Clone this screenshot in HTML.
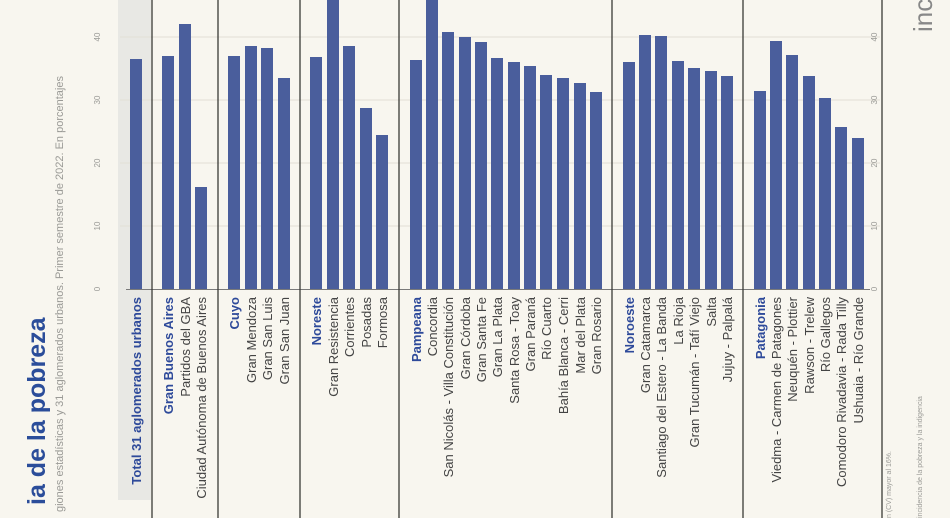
<!DOCTYPE html>
<html><head><meta charset="utf-8"><style>
html,body{margin:0;padding:0;background:#f8f6ef;}
svg{display:block;font-family:"Liberation Sans",sans-serif;}
</style></head><body>
<svg width="950" height="518" viewBox="0 0 950 518" xmlns="http://www.w3.org/2000/svg">
<rect width="950" height="518" fill="#f8f6ef"/>
<rect x="118" y="0" width="33" height="500" fill="#e8e8e4"/>
<g stroke="#e2dfd6" stroke-width="1">
<line x1="120" y1="37" x2="880" y2="37"/>
<line x1="120" y1="100" x2="880" y2="100"/>
<line x1="120" y1="163" x2="880" y2="163"/>
<line x1="120" y1="226" x2="880" y2="226"/>
</g>
<g fill="#9a9a96" font-size="8">
<text transform="translate(100,37) rotate(-90)" text-anchor="middle">40</text>
<text transform="translate(100,100) rotate(-90)" text-anchor="middle">30</text>
<text transform="translate(100,163) rotate(-90)" text-anchor="middle">20</text>
<text transform="translate(100,226) rotate(-90)" text-anchor="middle">10</text>
<text transform="translate(100,289) rotate(-90)" text-anchor="middle">0</text>
<text transform="translate(877,37) rotate(-90)" text-anchor="middle">40</text>
<text transform="translate(877,100) rotate(-90)" text-anchor="middle">30</text>
<text transform="translate(877,163) rotate(-90)" text-anchor="middle">20</text>
<text transform="translate(877,226) rotate(-90)" text-anchor="middle">10</text>
<text transform="translate(877,289) rotate(-90)" text-anchor="middle">0</text>
</g>
<g fill="#4a5e9c">
<rect x="130" y="59" width="12" height="230"/>
<rect x="162" y="56" width="12" height="233"/>
<rect x="179" y="24" width="12" height="265"/>
<rect x="195" y="187" width="12" height="102"/>
<rect x="228" y="56" width="12" height="233"/>
<rect x="245" y="46" width="12" height="243"/>
<rect x="261" y="48" width="12" height="241"/>
<rect x="278" y="78" width="12" height="211"/>
<rect x="310" y="57" width="12" height="232"/>
<rect x="327" y="0" width="12" height="289"/>
<rect x="343" y="46" width="12" height="243"/>
<rect x="360" y="108" width="12" height="181"/>
<rect x="376" y="135" width="12" height="154"/>
<rect x="410" y="60" width="12" height="229"/>
<rect x="426" y="0" width="12" height="289"/>
<rect x="442" y="32" width="12" height="257"/>
<rect x="459" y="37" width="12" height="252"/>
<rect x="475" y="42" width="12" height="247"/>
<rect x="491" y="58" width="12" height="231"/>
<rect x="508" y="62" width="12" height="227"/>
<rect x="524" y="66" width="12" height="223"/>
<rect x="540" y="75" width="12" height="214"/>
<rect x="557" y="78" width="12" height="211"/>
<rect x="574" y="83" width="12" height="206"/>
<rect x="590" y="92" width="12" height="197"/>
<rect x="623" y="62" width="12" height="227"/>
<rect x="639" y="35" width="12" height="254"/>
<rect x="655" y="36" width="12" height="253"/>
<rect x="672" y="61" width="12" height="228"/>
<rect x="688" y="68" width="12" height="221"/>
<rect x="705" y="71" width="12" height="218"/>
<rect x="721" y="76" width="12" height="213"/>
<rect x="754" y="91" width="12" height="198"/>
<rect x="770" y="41" width="12" height="248"/>
<rect x="786" y="55" width="12" height="234"/>
<rect x="803" y="76" width="12" height="213"/>
<rect x="819" y="98" width="12" height="191"/>
<rect x="835" y="127" width="12" height="162"/>
<rect x="852" y="138" width="12" height="151"/>
</g>
<line x1="126" y1="289.5" x2="870" y2="289.5" stroke="#7a7a7a" stroke-width="1"/>
<g stroke="#3a3a36" stroke-width="1.3">
<line x1="152" y1="0" x2="152" y2="518"/>
<line x1="218" y1="0" x2="218" y2="518"/>
<line x1="300" y1="0" x2="300" y2="518"/>
<line x1="399" y1="0" x2="399" y2="518"/>
<line x1="612" y1="0" x2="612" y2="518"/>
<line x1="743" y1="0" x2="743" y2="518"/>
<line x1="882" y1="0" x2="882" y2="518"/>
</g>
<g font-size="13" fill="#444" text-anchor="end">
<text transform="translate(141,297) rotate(-90)" fill="#2e4a9a" font-weight="bold">Total 31 aglomerados urbanos</text>
<text transform="translate(173,297) rotate(-90)" fill="#2e4a9a" font-weight="bold">Gran Buenos Aires</text>
<text transform="translate(190,297) rotate(-90)">Partidos del GBA</text>
<text transform="translate(206,297) rotate(-90)">Ciudad Autónoma de Buenos Aires</text>
<text transform="translate(239,297) rotate(-90)" fill="#2e4a9a" font-weight="bold">Cuyo</text>
<text transform="translate(256,297) rotate(-90)">Gran Mendoza</text>
<text transform="translate(272,297) rotate(-90)">Gran San Luis</text>
<text transform="translate(289,297) rotate(-90)">Gran San Juan</text>
<text transform="translate(321,297) rotate(-90)" fill="#2e4a9a" font-weight="bold">Noreste</text>
<text transform="translate(338,297) rotate(-90)">Gran Resistencia</text>
<text transform="translate(354,297) rotate(-90)">Corrientes</text>
<text transform="translate(371,297) rotate(-90)">Posadas</text>
<text transform="translate(387,297) rotate(-90)">Formosa</text>
<text transform="translate(421,297) rotate(-90)" fill="#2e4a9a" font-weight="bold">Pampeana</text>
<text transform="translate(437,297) rotate(-90)">Concordia</text>
<text transform="translate(453,297) rotate(-90)">San Nicolás - Villa Constitución</text>
<text transform="translate(470,297) rotate(-90)">Gran Córdoba</text>
<text transform="translate(486,297) rotate(-90)">Gran Santa Fe</text>
<text transform="translate(502,297) rotate(-90)">Gran La Plata</text>
<text transform="translate(519,297) rotate(-90)">Santa Rosa - Toay</text>
<text transform="translate(535,297) rotate(-90)">Gran Paraná</text>
<text transform="translate(551,297) rotate(-90)">Río Cuarto</text>
<text transform="translate(568,297) rotate(-90)">Bahía Blanca - Cerri</text>
<text transform="translate(585,297) rotate(-90)">Mar del Plata</text>
<text transform="translate(601,297) rotate(-90)">Gran Rosario</text>
<text transform="translate(634,297) rotate(-90)" fill="#2e4a9a" font-weight="bold">Noroeste</text>
<text transform="translate(650,297) rotate(-90)">Gran Catamarca</text>
<text transform="translate(666,297) rotate(-90)">Santiago del Estero - La Banda</text>
<text transform="translate(683,297) rotate(-90)">La Rioja</text>
<text transform="translate(699,297) rotate(-90)">Gran Tucumán - Tafí Viejo</text>
<text transform="translate(716,297) rotate(-90)">Salta</text>
<text transform="translate(732,297) rotate(-90)">Jujuy - Palpalá</text>
<text transform="translate(765,297) rotate(-90)" fill="#2e4a9a" font-weight="bold">Patagonia</text>
<text transform="translate(781,297) rotate(-90)">Viedma - Carmen de Patagones</text>
<text transform="translate(797,297) rotate(-90)">Neuquén - Plottier</text>
<text transform="translate(814,297) rotate(-90)">Rawson - Trelew</text>
<text transform="translate(830,297) rotate(-90)">Río Gallegos</text>
<text transform="translate(846,297) rotate(-90)">Comodoro Rivadavia - Rada Tilly</text>
<text transform="translate(863,297) rotate(-90)">Ushuaia - Río Grande</text>
</g>
<text transform="translate(45,505) rotate(-90)" font-size="25" font-weight="bold" fill="#2b4d9a">ia de la pobreza</text>
<text transform="translate(63,512) rotate(-90)" font-size="11" fill="#9a9a96">giones estadísticas y 31 aglomerados urbanos. Primer semestre de 2022. En porcentajes</text>
<text transform="translate(891,518) rotate(-90)" font-size="7" fill="#9a9a96">n (CV) mayor al 16%.</text>
<text transform="translate(922,518) rotate(-90)" font-size="7" fill="#9a9a96">incidencia de la pobreza y la indigencia</text>
<text transform="translate(932,32) rotate(-90)" font-size="26" fill="#888">inc</text>
</svg>
</body></html>
